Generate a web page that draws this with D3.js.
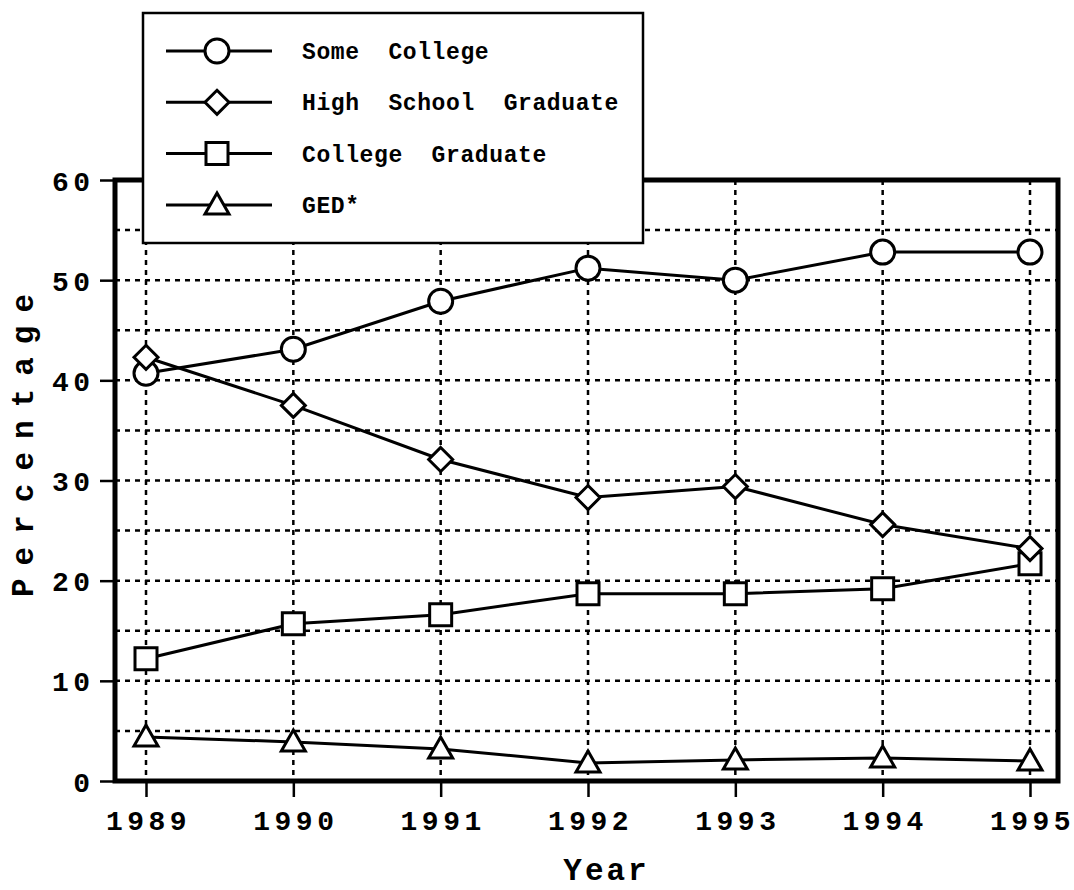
<!DOCTYPE html>
<meta charset="utf-8">
<style>
  body { margin: 0; background: #fff; }
  text { font-family: "Courier New", "Liberation Mono", monospace; font-weight: bold; fill: #000; }
</style>
<body>
<script src="https://d3js.org/d3.v7.min.js"></script>
<script>

var years = [1989, 1990, 1991, 1992, 1993, 1994, 1995];
var someCollege = [40.7, 43.1, 47.9, 51.2, 50.0, 52.8, 52.8];
var highSchool = [42.3, 37.5, 32.1, 28.3, 29.4, 25.6, 23.2];
var collegeGrad = [12.2, 15.7, 16.6, 18.7, 18.7, 19.2, 21.7];
var ged = [4.4, 3.9, 3.2, 1.8, 2.1, 2.3, 2.0];
var yTicks = [0, 10, 20, 30, 40, 50, 60];
var yGrid = [5, 10, 15, 20, 25, 30, 35, 40, 45, 50, 55];

// legend order, and draw order (diamonds end up on top)
var series = [
  {name: "Some  College", values: someCollege, shape: "circle"},
  {name: "High  School  Graduate", values: highSchool, shape: "diamond"},
  {name: "College  Graduate", values: collegeGrad, shape: "square"},
  {name: "GED*", values: ged, shape: "triangle"}
];
var drawOrder = [3, 2, 0, 1];

var width = 1074,
    height = 890;

var svg = d3.select("body").append("svg")
    .attr("width", width)
    .attr("height", height);

var x = d3.scaleLinear().domain([1989, 1995]).range([146, 1030]);
var y = d3.scaleLinear().domain([0, 60]).range([781, 180]);
var left = 115, right = 1058;

// dashed grid
svg.append("g").selectAll("line")
    .data(yGrid)
    .enter().append("line")
    .attr("x1", left).attr("x2", right)
    .attr("y1", d => y(d)).attr("y2", d => y(d))
    .attr("stroke", "#000").attr("stroke-width", 2.5)
    .attr("stroke-dasharray", "5,5");

svg.append("g").selectAll("line")
    .data(years)
    .enter().append("line")
    .attr("x1", d => x(d)).attr("x2", d => x(d))
    .attr("y1", y(60)).attr("y2", y(0))
    .attr("stroke", "#000").attr("stroke-width", 2.5)
    .attr("stroke-dasharray", "5,5");

// axes
var yAxis = svg.append("g")
    .attr("transform", "translate(" + left + ",0)")
    .call(d3.axisLeft(y).tickValues(yTicks).tickSize(15).tickFormat(d3.format("d")));
yAxis.select(".domain").remove();
yAxis.selectAll("line").attr("stroke-width", 2.5);
yAxis.selectAll("text")
    .attr("x", -25 + 4.5)
    .attr("dy", "0.36em")
    .style("font-size", "28px")
    .style("letter-spacing", "4.5px")
    .style("font-family", null);

var xAxis = svg.append("g")
    .attr("transform", "translate(0," + y(0) + ")")
    .call(d3.axisBottom(x).tickValues(years).tickSize(16).tickFormat(d3.format("d")));
xAxis.select(".domain").remove();
xAxis.selectAll("line").attr("stroke-width", 2.5);
xAxis.selectAll("text")
    .attr("x", 2)
    .attr("y", 49)
    .attr("dy", null)
    .style("font-size", "28px")
    .style("letter-spacing", "4.5px")
    .style("font-family", null);

// frame
svg.append("rect")
    .attr("x", left).attr("y", y(60))
    .attr("width", right - left).attr("height", y(0) - y(60))
    .attr("fill", "none").attr("stroke", "#000").attr("stroke-width", 5);

// axis titles
svg.append("text")
    .attr("x", 605 + 1.5).attr("y", 880)
    .attr("text-anchor", "middle")
    .style("font-size", "31px")
    .style("letter-spacing", "3px")
    .text("Year");

svg.append("text")
    .attr("transform", "translate(33,439)rotate(-90)")
    .attr("text-anchor", "middle")
    .style("font-size", "31px")
    .style("letter-spacing", "13px")
    .text("Percentage");

function marker(shape) {
  if (shape == "circle") return "M-12,0A12,12 0 1,0 12,0A12,12 0 1,0 -12,0Z";
  if (shape == "diamond") return "M0,-12L12,0L0,12L-12,0Z";
  if (shape == "square") return "M-11,-11H11V11H-11Z";
  return "M0,-12L12,9H-12Z";
}

var line = d3.line()
    .x((d, i) => x(years[i]))
    .y(d => y(d));

drawOrder.forEach(function(k) {
  svg.append("path")
      .attr("d", line(series[k].values))
      .attr("fill", "none").attr("stroke", "#000").attr("stroke-width", 3);
});

drawOrder.forEach(function(k) {
  svg.append("g").selectAll("path")
      .data(series[k].values)
      .enter().append("path")
      .attr("transform", (d, i) => "translate(" + x(years[i]) + "," + y(d) + ")")
      .attr("d", marker(series[k].shape))
      .attr("fill", "#fff").attr("stroke", "#000").attr("stroke-width", 3);
});

// legend
var legend = svg.append("g");
legend.append("rect")
    .attr("x", 143).attr("y", 13)
    .attr("width", 500).attr("height", 230)
    .attr("fill", "#fff").attr("stroke", "#000").attr("stroke-width", 2.5);

var item = legend.selectAll(".item")
    .data(series)
    .enter().append("g")
    .attr("class", "item")
    .attr("transform", (d, i) => "translate(0," + (51 + i * 51.3) + ")");

item.append("line")
    .attr("x1", 166).attr("x2", 272)
    .attr("stroke", "#000").attr("stroke-width", 3);

item.append("path")
    .attr("transform", "translate(217,0)")
    .attr("d", d => marker(d.shape))
    .attr("fill", "#fff").attr("stroke", "#000").attr("stroke-width", 3);

item.append("text")
    .attr("x", 302).attr("y", 8)
    .style("font-size", "23px")
    .style("letter-spacing", "0.6px")
    .style("white-space", "pre")
    .text(d => d.name);

</script>
